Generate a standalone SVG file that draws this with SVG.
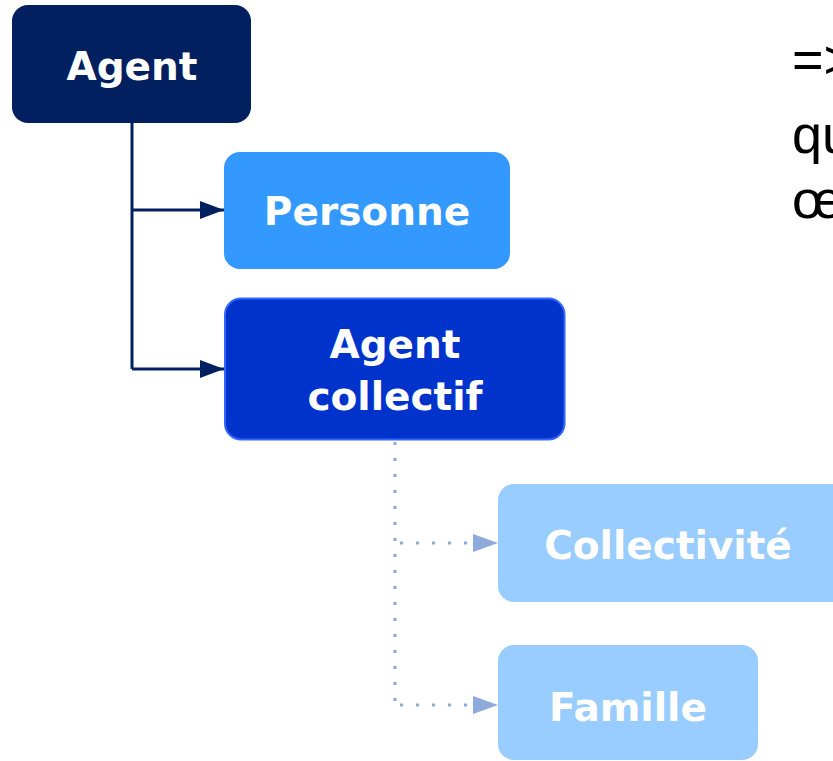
<svg xmlns="http://www.w3.org/2000/svg" width="833" height="761" viewBox="0 0 833 761">
<defs>
<style>
.lbl{font-family:"Comic Sans MS","DejaVu Sans",sans-serif;font-weight:bold;font-size:39px;fill:#ffffff;text-anchor:middle}
.side{font-family:"Liberation Sans",Arial,sans-serif;font-size:54px;fill:#000000}
.solid{fill:none;stroke:#022060;stroke-width:3}
.dot{fill:none;stroke:#8EA9DB;stroke-width:3;stroke-dasharray:3 13}
</style>
<marker id="arrS" markerWidth="26" markerHeight="20" refX="24" refY="9" orient="auto" markerUnits="userSpaceOnUse" viewBox="0 0 26 18">
<path d="M0,0 L24,9 L0,18 Z" fill="#022060"/>
</marker>
</defs>
<rect width="833" height="761" fill="#ffffff"/>
<g id="connectors">
<path class="solid" d="M132,123 V369"/>
<path class="solid" d="M132,210 H224" marker-end="url(#arrS)"/>
<path class="solid" d="M132,369 H224" marker-end="url(#arrS)"/>
<path class="dot" d="M395,442 V704"/>
<path class="dot" d="M400,543 H473"/>
<path class="dot" d="M400,705 H473"/>
<path d="M473,534 L498,543 L473,552 Z" fill="#8EA9DB"/>
<path d="M473,696 L498,705 L473,714 Z" fill="#8EA9DB"/>
</g>
<g id="agent">
<rect x="12" y="5" width="239" height="118" rx="16" fill="#022060"/>
<text class="lbl" x="132" y="80">Agent</text>
</g>
<g id="personne">
<rect x="224" y="152" width="286" height="117" rx="16" fill="#3399FF"/>
<text class="lbl" x="367" y="225">Personne</text>
</g>
<g id="agent-collectif">
<rect x="225" y="298.5" width="339.5" height="141" rx="16" fill="#0033CC" stroke="#3366FF" stroke-width="2"/>
<text class="lbl" x="395" y="358">Agent</text>
<text class="lbl" x="395" y="410">collectif</text>
</g>
<g id="collectivite">
<rect x="498" y="484" width="350" height="118" rx="16" fill="#99CCFF"/>
<text class="lbl" x="668" y="559">Collectivité</text>
</g>
<g id="famille">
<rect x="498" y="645" width="260" height="115" rx="16" fill="#99CCFF"/>
<text class="lbl" x="628" y="721">Famille</text>
</g>
<g id="side-text">
<text class="side" x="792" y="78">=&gt;</text>
<text class="side" x="792" y="153">qu</text>
<text class="side" x="792" y="218">œ</text>
</g>
</svg>
